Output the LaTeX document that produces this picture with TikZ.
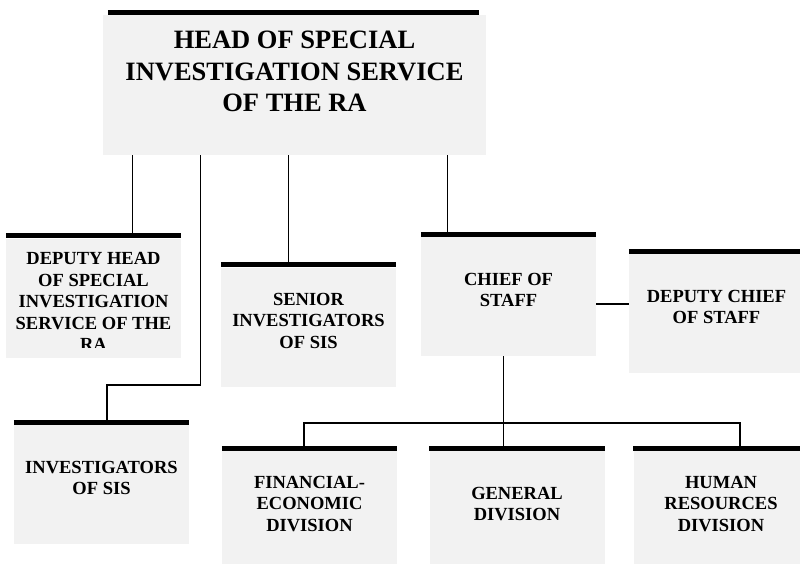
\documentclass[tikz,border=0pt]{standalone}
\usepackage{fontspec}
\setmainfont{Liberation Serif}
\usepackage{tikz}
\definecolor{boxgray}{HTML}{F2F2F2}

\begin{document}
\begin{tikzpicture}[x=1pt, y=-1pt,
		unit/.style={fill=boxgray, minimum width=175pt, minimum height=119pt, inner sep=0pt},
		unittext/.style={align=center, font=\bfseries\fontsize{18.5}{21.5}\selectfont, yshift=6.5pt},
		headtext/.style={align=center, font=\bfseries\fontsize{26.5}{31.5}\selectfont, yshift=13.5pt},
		topbar/.style={line width=5pt},
		link/.style={line width=1.3pt}]
		\useasboundingbox (0, 0) rectangle (800, 564);
		\clip (0, 0) rectangle (800, 564);
		\node[unit, minimum width=383pt, minimum height=140pt, label={[headtext, name=headlabel]center:{HEAD OF SPECIAL\\INVESTIGATION SERVICE\\OF THE RA}}] (head) at (294.5, 85) {};
		\node[unit] (dephead) at (93.5, 298) {};
		\node[unit, label={[unittext, name=seniorlabel]center:{SENIOR\\INVESTIGATORS\\OF SIS}}] (senior) at (308.5, 327) {};
		\node[unit, label={[unittext, name=chieflabel]center:{CHIEF OF\\STAFF}}] (chief) at (508.5, 296.5) {};
		\node[unit, label={[unittext, name=depchieflabel]center:{DEPUTY CHIEF\\OF STAFF}}] (depchief) at (716.5, 313.5) {};
		\node[unit, label={[unittext, name=investlabel]center:{INVESTIGATORS\\OF SIS}}] (invest) at (101.5, 484.5) {};
		\node[unit, label={[unittext, name=finlabel]center:{FINANCIAL-\\ECONOMIC\\DIVISION}}] (fin) at (309.5, 510.5) {};
		\node[unit, label={[unittext, name=genlabel]center:{GENERAL\\DIVISION}}] (gen) at (517, 510.5) {};
		\node[unit, label={[unittext, name=hrlabel]center:{HUMAN\\RESOURCES\\DIVISION}}] (hr) at (721, 510.5) {};
		\begin{scope}
			\clip (dephead.north west) rectangle ([yshift=10pt]dephead.south east);
			\node[unittext, yshift=-10pt] (depheadlabel) at (dephead.center) {DEPUTY HEAD\\OF SPECIAL\\INVESTIGATION\\SERVICE OF THE\\RA};
		\end{scope}
		\coordinate (hdep) at ([xshift=30pt]head.south west);
		\coordinate (hinv) at ([xshift=98pt]head.south west);
		\coordinate (hsen) at ([xshift=186pt]head.south west);
		\coordinate (hchief) at ([xshift=345pt]head.south west);
		\coordinate (ibend) at (107, 385);
		\coordinate (cside) at ([yshift=-7.5pt]chief.east);
		\coordinate (busmid) at (503.5, 423);
		\coordinate (busl) at (304, 423);
		\coordinate (busr) at (740, 423);
		\draw[link] (hdep) -- (hdep |- dephead.north);
		\draw[link] (hinv) |- (ibend) -- (ibend |- invest.north);
		\draw[link] (hsen) -- (hsen |- senior.north);
		\draw[link] (hchief) -- (hchief |- chief.north);
		\draw[link] (cside) -- (cside -| depchief.west);
		\draw[link] (chief.south -| busmid) -- (busmid |- gen.north);
		\draw[link] (busl |- fin.north) -- (busl) -- (busr) -- (busr |- hr.north);
		\foreach \n in {dephead, senior, chief, depchief, invest, fin, gen, hr}
			\draw[topbar] ([yshift=2.5pt]\n.north west) -- ([yshift=2.5pt]\n.north east);
		\draw[topbar] ([xshift=5pt, yshift=2.5pt]head.north west) -- ([xshift=-7pt, yshift=2.5pt]head.north east);
	\end{tikzpicture}
\end{document}
